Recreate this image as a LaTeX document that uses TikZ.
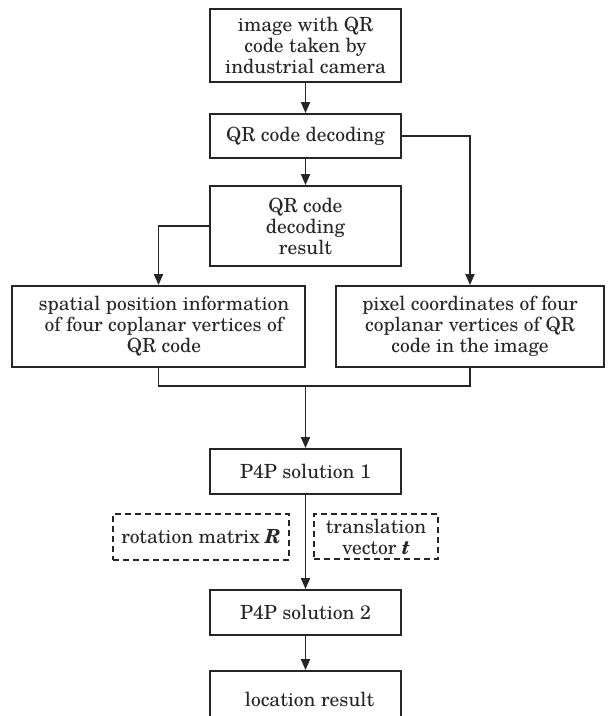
\documentclass[tikz,border=0pt]{standalone}
\usepackage{fontspec}
\setmainfont{texgyreschola}[Extension=.otf, UprightFont=*-regular, BoldFont=*-bold, ItalicFont=*-italic, BoldItalicFont=*-bolditalic]
\usetikzlibrary{arrows.meta}
\definecolor{ink}{HTML}{262626}
\begin{document}
\begin{tikzpicture}[x=1pt,y=-1pt,
  box/.style={draw=ink, line width=1.9pt, text=ink, align=center, inner sep=0pt, font=\fontsize{19.5}{21}\selectfont},
  dbox/.style={box, dash pattern=on 6pt off 4pt},
  conn/.style={draw=ink, line width=1.9pt},
  arr/.style={conn, -{Triangle[length=11pt,width=9pt]}}]
\useasboundingbox (0,0) rectangle (614,716);
\clip (0,0) rectangle (614,716);
\node[box, minimum width=191pt, minimum height=73pt] (b1) at (305.5,45.5) {image with QR\\code taken by\\industrial camera};
\node[box, minimum width=191pt, minimum height=44pt] (b2) at (305.5,136) {QR code decoding};
\node[box, minimum width=191pt, minimum height=80pt] (b3) at (305.5,226) {QR code\\decoding\\result};
\node[box, minimum width=293pt, minimum height=81pt] (b4) at (158.5,326.5) {\hspace*{11pt}spatial position information\\\hspace*{11pt}of four coplanar vertices of\\\hspace*{11pt}QR code};
\node[box, minimum width=268pt, minimum height=81pt] (b5) at (470,326.5) {pixel coordinates of four\\coplanar vertices of QR\\code in the image};
\node[box, minimum width=191pt, minimum height=45pt] (b6) at (305.5,471.5) {P4P solution 1};
\node[dbox, minimum width=176pt, minimum height=46pt] (rm) at (201,537) {rotation matrix \textbf{\textit{R}}};
\node[dbox, minimum width=124pt, minimum height=45pt] (tv) at (376,536.5) {translation\\vector \textbf{\textit{t}}};
\node[box, minimum width=191pt, minimum height=45pt] (b7) at (305.5,612.5) {P4P solution 2};
\node[box, minimum width=191pt, minimum height=80pt, text depth=0pt] (b8) at (305.5,711) {\raisebox{23pt}{\hspace*{8pt}location result}};
\coordinate (j) at (305.5,386);
\draw[arr] (b1.south) -- (b2.north);
\draw[arr] (b2.south) -- (b3.north);
\draw[arr] (b3.west) -| (b4.north);
\draw[arr] (b2.east) -| (b5.north);
\draw[conn] (b4.south) |- (j) -| (b5.south);
\draw[arr] (j) -- (b6.north);
\draw[arr] (b6.south) -- (b7.north);
\draw[arr] (b7.south) -- (b8.north);
\end{tikzpicture}
\end{document}
